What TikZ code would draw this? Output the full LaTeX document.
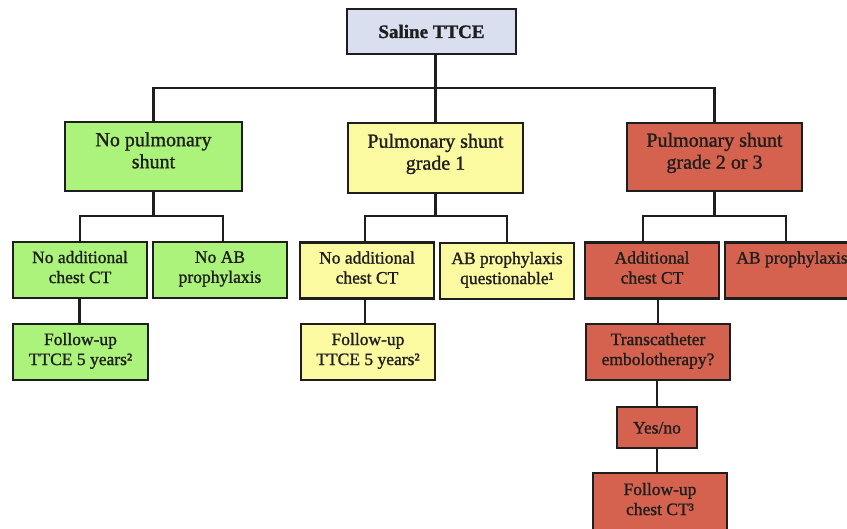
\documentclass[tikz,border=0pt]{standalone}
\usepackage{fontspec}
\setmainfont{Liberation Serif}[RawFeature={embolden=1.2}]
\definecolor{boxblue}{RGB}{218,223,240}
\definecolor{boxgreen}{RGB}{171,243,122}
\definecolor{boxyellow}{RGB}{252,250,160}
\definecolor{boxred}{RGB}{212,98,78}
\definecolor{ink}{RGB}{30,30,30}
\tikzset{
  box/.style={draw=ink, line width=2.6pt, rectangle, inner sep=0pt, align=center, text=ink},
  bigbox/.style={box, font=\fontsize{20}{22}\selectfont,
    execute at begin node=\strut, execute at end node={\rule[-12.4pt]{0pt}{1pt}}},
  smallbox/.style={box, font=\fontsize{17.5}{20}\selectfont,
    execute at begin node={\rule{0pt}{18pt}}, execute at end node=\strut},
  conn/.style={draw=ink, line width=2.6pt},
}
\begin{document}
\begin{tikzpicture}[x=1pt,y=-1pt]
\clip (0,0) rectangle (847,529);
\fill[white] (0,0) rectangle (847,529);
% level 0
\node[box, fill=boxblue, minimum width=169pt, minimum height=45pt, font=\bfseries\fontsize{19}{22}\selectfont] (top) at (431.5,31.5) {Saline TTCE};
% level 1
\node[bigbox, fill=boxgreen, minimum width=177pt, minimum height=69pt] (g1) at (153.5,156.5) {No pulmonary\\shunt};
\node[bigbox, fill=boxyellow, minimum width=175pt, minimum height=70pt] (y1) at (435.5,158) {Pulmonary shunt\\grade 1};
\node[bigbox, fill=boxred, minimum width=175pt, minimum height=68pt] (r1) at (714.5,157) {Pulmonary shunt\\grade 2 or 3};
% level 2
\node[smallbox, fill=boxgreen, minimum width=134pt, minimum height=56pt] (g2a) at (80,270) {No additional\\chest CT};
\node[smallbox, fill=boxgreen, minimum width=134pt, minimum height=56pt] (g2b) at (220,270) {No AB\\prophylaxis};
\node[smallbox, fill=boxyellow, minimum width=134pt, minimum height=56pt] (y2a) at (367,270.5) {No additional\\chest CT};
\node[smallbox, fill=boxyellow, minimum width=134pt, minimum height=56pt] (y2b) at (507,271) {AB prophylaxis\\questionable¹};
\node[smallbox, fill=boxred, minimum width=134pt, minimum height=56pt] (r2a) at (652,270.5) {Additional\\chest CT};
\node[smallbox, fill=boxred, minimum width=134pt, minimum height=56pt] (r2b) at (792,270.5) {AB prophylaxis\\};
% level 3
\node[smallbox, fill=boxgreen, minimum width=135pt, minimum height=56pt] (g3) at (80.5,352) {Follow-up\\TTCE 5 years²};
\node[smallbox, fill=boxyellow, minimum width=134pt, minimum height=56pt] (y3) at (368,352) {Follow-up\\TTCE 5 years²};
\node[smallbox, fill=boxred, minimum width=144pt, minimum height=56pt] (r3) at (658,352) {Transcatheter\\embolotherapy?};
\node[smallbox, fill=boxred, minimum width=80pt, minimum height=41pt, execute at begin node=\strut] (r4) at (657,427.5) {Yes/no};
\node[smallbox, fill=boxred, minimum width=134pt, minimum height=58pt] (r5) at (660,502) {Follow-up\\chest CT³};
% connectors
\coordinate (busA) at (0,88);
\coordinate (busB) at (0,216);
\draw[conn] (top.south -| y1.north) -- (y1.north);
\draw[conn] (g1.north) -- (g1.north |- busA) -- (r1.north |- busA) -- (r1.north);
\draw[conn] (g1.south) -- (g1.south |- busB);
\draw[conn] (g2a.north) -- (g2a.north |- busB) -- ([xshift=3pt]g2b.north |- busB) -- ([xshift=3pt]g2b.north);
\draw[conn] (y1.south) -- (y1.south |- busB);
\draw[conn] ([xshift=-2pt]y2a.north) -- ([xshift=-2pt]y2a.north |- busB) -- (y2b.north |- busB) -- (y2b.north);
\draw[conn] (r1.south) -- (r1.south |- busB);
\draw[conn] ([xshift=-9pt]r2a.north) -- ([xshift=-9pt]r2a.north |- busB) -- ([xshift=-6pt]r2b.north |- busB) -- ([xshift=-6pt]r2b.north);
\draw[conn] ([xshift=-1pt]g3.north) -- ([xshift=-1pt]g3.north |- g2a.south);
\draw[conn] ([xshift=-3pt]y3.north) -- ([xshift=-3pt]y3.north |- y2a.south);
\draw[conn] (r3.north) -- (r3.north |- r2a.south);
\draw[conn] (r4.north) -- (r4.north |- r3.south);
\draw[conn] (r4.south) -- (r4.south |- r5.north);
\end{tikzpicture}
\end{document}
